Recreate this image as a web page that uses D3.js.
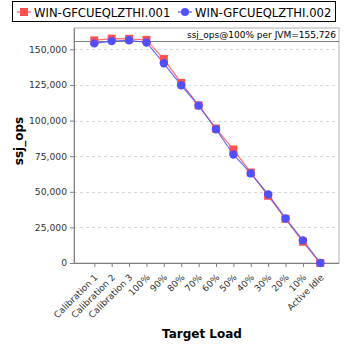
<!DOCTYPE html>
<html><head><meta charset="utf-8">
<script src="https://cdn.jsdelivr.net/npm/d3@7"></script>
<style>body{margin:0;background:#fff}svg{display:block}text{font-family:"DejaVu Sans",sans-serif}</style>
</head><body><svg id="c" width="348" height="348"></svg>
<script>
const categories = ["Calibration 1","Calibration 2","Calibration 3","100%","90%","80%","70%","60%","50%","40%","30%","20%","10%","Active Idle"];
const series1 = [156300,157500,157400,156600,143200,126400,110700,94400,79700,63500,47200,31000,14900,0];
const series2 = [154200,155800,156400,154850,140200,124800,110500,93900,76200,62900,48200,31300,15900,0];
const seriesNames = ["WIN-GFCUEQLZTHI.001","WIN-GFCUEQLZTHI.002"];
const yTicks = [0,25000,50000,75000,100000,125000,150000];
const refValue = 155726;
const refLabel = "ssj_ops@100% per JVM=155,726";

const svg = d3.select("#c");
const L=74, R=339, T=28, B=263;
const x = d3.scalePoint().domain(categories).range([94.3, 320.3]);
const y = d3.scaleLinear().domain([0,165000]).range([B,T]);

// plot border
svg.append("rect").attr("x",L).attr("y",T).attr("width",R-L).attr("height",B-T)
  .attr("fill","#fff").attr("stroke","#b0b0b0").attr("stroke-width",1);
// grid
svg.append("g").selectAll("line").data(yTicks.filter(d=>d>0)).join("line")
  .attr("x1",L).attr("x2",R).attr("y1",d=>Math.round(y(d))+0.5).attr("y2",d=>Math.round(y(d))+0.5)
  .attr("stroke","#d8d8d8").attr("stroke-dasharray","3,3");
// reference line
svg.append("line").attr("x1",L).attr("x2",R).attr("y1",Math.round(y(refValue))+0.5).attr("y2",Math.round(y(refValue))+0.5)
  .attr("stroke","#808080").attr("stroke-width",1.2);
svg.append("text").attr("x",R-3).attr("y",Math.round(y(refValue))-3).attr("text-anchor","end")
  .attr("font-size",9).attr("fill","#000").text(refLabel);

// axes
const ya = svg.append("g").attr("transform",`translate(${L},0)`)
  .call(d3.axisLeft(y).tickValues(yTicks).tickFormat(d3.format(",")).tickSize(4).tickSizeOuter(0));
ya.select(".domain").attr("stroke","#808080");
ya.selectAll(".tick line").attr("stroke","#808080");
ya.selectAll("text").attr("font-size",9.2).attr("fill","#333").attr("font-family","DejaVu Sans");
const xa = svg.append("g").attr("transform",`translate(0,${B})`)
  .call(d3.axisBottom(x).tickSize(4).tickSizeOuter(0));
xa.select(".domain").attr("d",`M${L},0.5H${R}`).attr("stroke","#808080");
xa.selectAll(".tick line").attr("stroke","#808080");
xa.selectAll("text").attr("font-size",9).attr("fill","#333").attr("font-family","DejaVu Sans")
  .attr("text-anchor","end").attr("dy",0).attr("y",0)
  .attr("transform","translate(3.5,15) rotate(-45)");

// axis titles
svg.append("text").attr("transform","translate(23,141) rotate(-90)").attr("text-anchor","middle")
  .attr("font-size",12).attr("font-weight","bold").text("ssj_ops");
svg.append("text").attr("x",202).attr("y",338).attr("text-anchor","middle")
  .attr("font-family","Liberation Sans").attr("font-size",12).attr("font-weight","bold").text("Target Load");

// series
const colors = ["#ff5050","#5050ff"];
const line = d3.line().x((d,i)=>x(categories[i])).y(d=>y(d));
[series1,series2].forEach((s,k)=>{
  svg.append("path").datum(s).attr("d",line).attr("fill","none").attr("stroke",colors[k]).attr("stroke-width",1.2).attr("stroke-opacity",0.85);
});
svg.append("g").selectAll("rect").data(series1).join("rect")
  .attr("x",(d,i)=>x(categories[i])-4).attr("y",d=>y(d)-4).attr("width",8).attr("height",8).attr("fill",colors[0]);
svg.append("g").selectAll("circle").data(series2).join("circle")
  .attr("cx",(d,i)=>x(categories[i])).attr("cy",d=>y(d)).attr("r",4.2).attr("fill",colors[1]);

// legend
svg.append("rect").attr("x",12.5).attr("y",1.5).attr("width",323).attr("height",20).attr("fill","#fff").attr("stroke","#000");
const lg = [{x:17,tx:34},{x:178,tx:195}];
svg.append("line").attr("x1",lg[0].x).attr("x2",lg[0].x+14).attr("y1",12).attr("y2",12).attr("stroke",colors[0]).attr("stroke-width",1.2);
svg.append("rect").attr("x",lg[0].x+3).attr("y",8).attr("width",8).attr("height",8).attr("fill",colors[0]);
svg.append("line").attr("x1",lg[1].x).attr("x2",lg[1].x+14).attr("y1",12).attr("y2",12).attr("stroke",colors[1]).attr("stroke-width",1.2);
svg.append("circle").attr("cx",lg[1].x+7).attr("cy",12).attr("r",4).attr("fill",colors[1]);
seriesNames.forEach((n,i)=>svg.append("text").attr("x",lg[i].tx).attr("y",16.5).attr("font-size",11.6).attr("fill","#000").text(n));
</script></body></html>
